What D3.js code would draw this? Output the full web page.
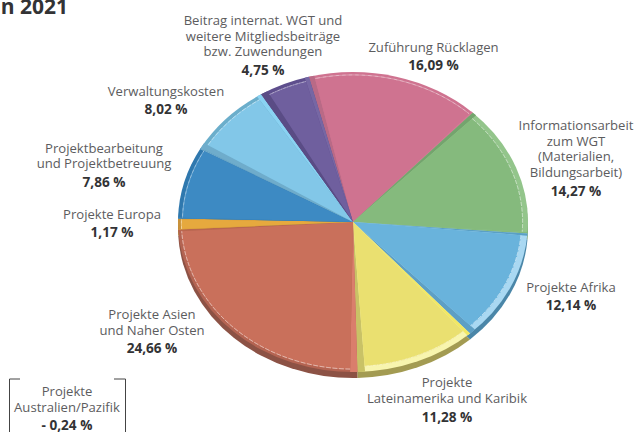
<!DOCTYPE html>
<html><head><meta charset="utf-8">
<script src="https://cdn.jsdelivr.net/npm/d3@7"></script>
<style>html,body{margin:0;padding:0;background:#fff;overflow:hidden}svg{display:block}
text{font-family:"Open Sans","Noto Sans",sans-serif}</style></head>
<body><svg id="c" width="635" height="432"></svg>
<script>
const categories=["Zuführung Rücklagen","Informationsarbeit zum WGT (Materialien, Bildungsarbeit)","Projekte Afrika","Projekte Lateinamerika und Karibik","Projekte Asien und Naher Osten","Projekte Europa","Projektbearbeitung und Projektbetreuung","Verwaltungskosten","Beitrag internat. WGT und weitere Mitgliedsbeiträge bzw. Zuwendungen"];
const values=[16.09,14.27,12.14,11.28,24.66,1.17,7.86,8.02,4.75];
const valueLabels=["16,09 %","14,27 %","12,14 %","11,28 %","24,66 %","1,17 %","7,86 %","8,02 %","4,75 %"];
const labelLines=[["Zuführung Rücklagen"],["Informationsarbeit","zum WGT","(Materialien,","Bildungsarbeit)"],["Projekte Afrika"],["Projekte","Lateinamerika und Karibik"],["Projekte Asien","und Naher Osten"],["Projekte Europa"],["Projektbearbeitung","und Projektbetreuung"],["Verwaltungskosten"],["Beitrag internat. WGT und","weitere Mitgliedsbeiträge","bzw. Zuwendungen"]];
const faceColors=["#CF7390","#85BA7D","#69B3DC","#EAE070","#C9705B","#E6A93E","#3D8AC3","#82C7E8","#6F5F9E"];
const rimColors=["#CF7390","#93C58B","#A9D8F2","#F8F5AE","#B46452","#C9923A","#2F78AE","#6BAECB","#5E4E8D"];
const startEdge=["#B96A86","#74A46E","#5AA0C5","#F2E862","#DA7E6C","#E6A93E","#3D8AC3","#6FACCB","#5A4C85"];
const endEdge=["#D57A96","#85BA7D","#5E9FC4","#C9C266","#B9664F","#E6A93E","#6FA9C9","#8AD2F2","#7667A4"];
const depthColors=["#A85C75","#6C9765","#4A86A8","#A39B52","#8C5245","#A87C30","#2C6A98","#5F9AB5","#4E4278"];
const startBevelDeg=[1.8,1.5,.8,1.1,2.4,.2,.4,2.2,2.4];
const endBevelDeg=[.6,.6,2.2,2.5,.7,.2,.5,1.6,1.4];
const rimWidths=[3,5,6,6,3,3,4,4,4];
const noteLines=["Projekte","Australien/Pazifik"];
const noteValue="- 0,24 %";
const titleText="n 2021";
const labelPos=[[433.5,52,16,70],[576,130,15.7,196],[571,292,16,310],[447,387,16,422],[152,319,16,353],[112,219,16,237],[104,153,15,187],[166,96,16,114],[263,25,15.5,75]];

const svg=d3.select("#c");
const cx=353,cy=222,R=175,ry=150;
const toRad=d=>d*Math.PI/180;
const pie=d3.pie().sort(null).startAngle(toRad(-14.6)).endAngle(toRad(345.4));
const slices=pie(values);
const arc=d3.arc().innerRadius(0).outerRadius(R);
const root=svg.append("g");
const place=(dy)=>`translate(${cx},${cy+dy}) scale(1,${ry/R})`;

root.append("g").attr("transform",place(6)).selectAll("path").data(slices).join("path")
 .attr("d",d=>arc(d)).attr("fill",(d,i)=>depthColors[i]);

const g=root.append("g").attr("transform",place(0));
slices.forEach((d,i)=>{
  const bs=toRad(startBevelDeg[i]), be=toRad(endBevelDeg[i]), rim=rimWidths[i];
  g.append("path").attr("d",arc(d)).attr("fill",rimColors[i]);
  g.append("path").attr("d",d3.arc().innerRadius(0).outerRadius(R)({startAngle:d.startAngle,endAngle:d.startAngle+bs})).attr("fill",startEdge[i]);
  g.append("path").attr("d",d3.arc().innerRadius(0).outerRadius(R)({startAngle:d.endAngle-be,endAngle:d.endAngle})).attr("fill",endEdge[i]);
  g.append("path").attr("d",d3.arc().innerRadius(0).outerRadius(R-rim)({startAngle:d.startAngle+bs,endAngle:d.endAngle-be})).attr("fill",faceColors[i]);
  g.append("path").attr("d",d3.arc().innerRadius(R-rim-.4).outerRadius(R-rim-.4)({startAngle:d.startAngle+bs,endAngle:d.endAngle-be}))
   .attr("fill","none").attr("stroke","#fff").attr("stroke-width",.7).attr("stroke-dasharray","5 1.5").attr("opacity",.45);
});

const grey="#5C5C5E",dark="#333335";
const lab=svg.append("g").attr("text-anchor","middle");
labelLines.forEach((lines,i)=>{
  const [x,y,step,vy]=labelPos[i];
  lines.forEach((t,j)=>lab.append("text").attr("x",x).attr("y",y+j*step).attr("font-size",13.1).attr("fill",grey).text(t));
  lab.append("text").attr("x",x).attr("y",vy).attr("font-size",13.6).attr("font-weight",700).attr("fill",dark).text(valueLabels[i]);
});
noteLines.forEach((t,j)=>lab.append("text").attr("x",67).attr("y",396+j*16).attr("font-size",13.1).attr("fill",grey).text(t));
lab.append("text").attr("x",67).attr("y",430).attr("font-size",13.6).attr("font-weight",700).attr("fill",dark).text(noteValue);
svg.append("path").attr("d",d3.line()([[20,379],[9.5,379],[9.5,432]])).attr("fill","none").attr("stroke","#444").attr("stroke-width",1);
svg.append("path").attr("d",d3.line()([[114,379],[125.5,379],[125.5,432]])).attr("fill","none").attr("stroke","#444").attr("stroke-width",1);
svg.append("text").attr("x",68).attr("y",13.5).attr("text-anchor","end").attr("font-size",21).attr("font-weight",700).attr("fill",dark).text(titleText);
</script></body></html>
